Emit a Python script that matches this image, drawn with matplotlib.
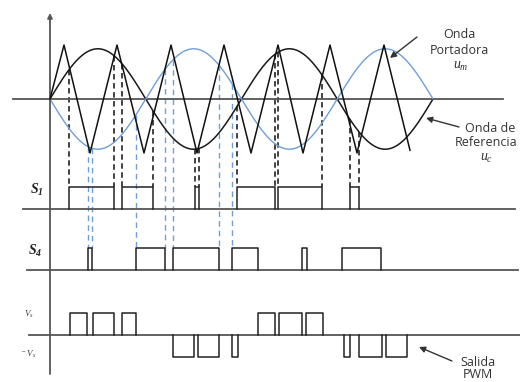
import numpy as np
import matplotlib.pyplot as plt

plt.rcParams["mathtext.fontset"] = "custom"
plt.rcParams["mathtext.rm"] = "Liberation Serif"
plt.rcParams["mathtext.it"] = "Liberation Serif:italic"
plt.rcParams["mathtext.bf"] = "Liberation Serif:italic:bold"

# triangular carrier: vertex times and levels (+1 peak, -1 trough)
carrier_t = [50, 64, 90, 117, 144, 171, 197, 224, 251, 278, 303, 330, 357, 384, 410]
carrier_lv = [0, 1, -1, 1, -1, 1, -1, 1, -1, 1, -1, 1, -1, 1, -0.95]

# sine waves (two periods)
sine_t0, sine_t1 = 50, 433
sine_amp = 0.93

# switching edges (start, end)
s1_pulses = [(69, 114), (122, 153), (195, 199), (237, 275), (278, 322), (350, 359)]
s4_pulses = [(88, 92), (136, 165), (173, 219), (232, 258), (302, 307), (342, 381)]
s4_dashed = [88, 92, 136, 165, 173, 219, 232]
vpos_pulses = [(70, 87), (93, 114), (122, 136), (258, 275), (279, 302), (306, 323)]
vneg_pulses = [(173, 194), (198, 219), (232, 238), (344, 350), (359, 382), (386, 407)]

W, H = 520, 382
y0, amp = 99, 54
s1_base, s1_top = 209, 187
s4_base, s4_top = 270, 248
v_base, v_hi, v_lo = 335, 313, 357

fig = plt.figure(figsize=(5.2, 3.82), dpi=100)
ax = fig.add_axes([0, 0, 1, 1])
ax.set_xlim(0, W)
ax.set_ylim(H, 0)
ax.axis("off")

period = (sine_t1 - sine_t0) / 2


def ref(x):
    return sine_amp * np.sin(2 * np.pi * (np.asarray(x) - sine_t0) / period)


t = np.linspace(sine_t0, sine_t1, 500)
ax.plot(t, y0 - amp * ref(t), color="#1a1a1a", lw=1.1, zorder=3)
ax.plot(t, y0 + amp * ref(t), color="#6f9fd4", lw=1.0, zorder=3)
ax.plot(carrier_t, y0 - amp * np.array(carrier_lv), color="#111111", lw=1.1, zorder=4)

# axes
ax.plot([13, 503], [y0, y0], color="#555555", lw=1.3, zorder=2)
ax.annotate("", xy=(50, 13), xytext=(50, 374),
            arrowprops=dict(arrowstyle="-|>", color="#555555", lw=1.3,
                            mutation_scale=7, shrinkA=0, shrinkB=0))
ax.plot([23, 515], [s1_base, s1_base], color="#555555", lw=1.3)
ax.plot([27, 518], [s4_base, s4_base], color="#555555", lw=1.3)
ax.plot([29, 520], [v_base, v_base], color="#555555", lw=1.3)

# dashed projections
for a, b in s1_pulses:
    for x in (a, b):
        ax.plot([x, x], [y0 - amp * ref(x), s1_top], color="#333333", lw=1.3,
                ls=(0, (3, 2)), zorder=1)
for x in s4_dashed:
    ax.plot([x, x], [y0 + amp * ref(x), s4_top], color="#6f9fd4", lw=1.0,
            ls=(0, (4, 3)), zorder=1)


def pulses(edges, base, top):
    for a, b in edges:
        ax.plot([a, a, b, b], [base, top, top, base], color="#222222", lw=1.1)


pulses(s1_pulses, s1_base, s1_top)
pulses(s4_pulses, s4_base, s4_top)
pulses(vpos_pulses, v_base, v_hi)
pulses(vneg_pulses, v_base, v_lo)

# labels
ax.text(37, 190, r"$\mathbf{S_1}$", fontsize=10, ha="center", va="center", color="#222222")
ax.text(35, 251, r"$\mathbf{S_4}$", fontsize=10, ha="center", va="center", color="#222222")
ax.text(29, 314, r"$V_s$", fontsize=6.5, ha="center", va="center", color="#444444")
ax.text(29, 354, r"$^-V_s$", fontsize=6.5, ha="center", va="center", color="#444444")

txt = dict(family="Open Sans", fontsize=9, color="#333333", ha="center", va="center")
ax.text(459, 35, "Onda", **txt)
ax.text(459, 51, "Portadora", **txt)
ax.text(461, 66, r"$u_m$", fontsize=10, ha="center", va="center", color="#333333")
ax.text(490, 128, "Onda de", **txt)
ax.text(486, 143, "Referencia", **txt)
ax.text(487, 158, r"$u_c$", fontsize=10, ha="center", va="center", color="#333333")
ax.text(478, 362, "Salida", **txt)
ax.text(478, 375, "PWM", **txt)

arrow = dict(arrowstyle="-|>", color="#333333", lw=1.0, mutation_scale=9,
             shrinkA=0, shrinkB=0)
ax.annotate("", xy=(390, 58), xytext=(417, 37), arrowprops=arrow)
ax.annotate("", xy=(426, 118), xytext=(459, 127), arrowprops=arrow)
ax.annotate("", xy=(419, 347), xytext=(452, 361), arrowprops=arrow)

fig.savefig("out.png", dpi=100)
